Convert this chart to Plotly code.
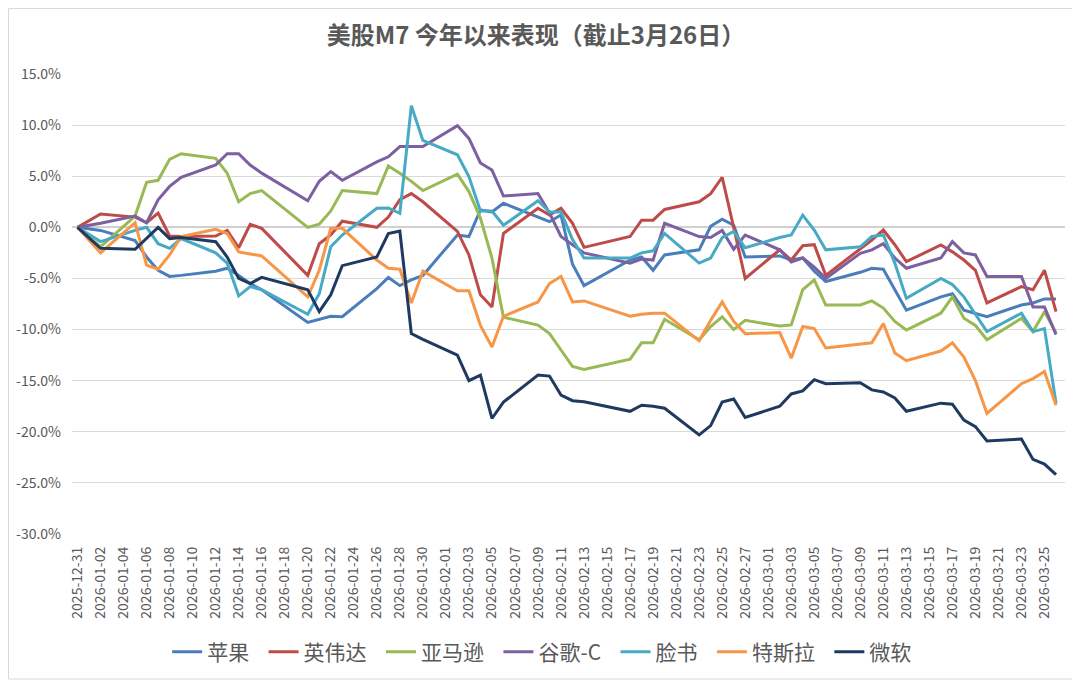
import plotly.graph_objects as go

# trading days (US market), Dec 31 is the base day
dates = [
    "2025-12-31",
    "2026-01-02", "2026-01-05", "2026-01-06", "2026-01-07", "2026-01-08", "2026-01-09",
    "2026-01-12", "2026-01-13", "2026-01-14", "2026-01-15", "2026-01-16",
    "2026-01-20", "2026-01-21", "2026-01-22", "2026-01-23",
    "2026-01-26", "2026-01-27", "2026-01-28", "2026-01-29", "2026-01-30",
    "2026-02-02", "2026-02-03", "2026-02-04", "2026-02-05", "2026-02-06",
    "2026-02-09", "2026-02-10", "2026-02-11", "2026-02-12", "2026-02-13",
    "2026-02-17", "2026-02-18", "2026-02-19", "2026-02-20",
    "2026-02-23", "2026-02-24", "2026-02-25", "2026-02-26", "2026-02-27",
    "2026-03-02", "2026-03-03", "2026-03-04", "2026-03-05", "2026-03-06",
    "2026-03-09", "2026-03-10", "2026-03-11", "2026-03-12", "2026-03-13",
    "2026-03-16", "2026-03-17", "2026-03-18", "2026-03-19", "2026-03-20",
    "2026-03-23", "2026-03-24", "2026-03-25", "2026-03-26",
]

# YTD return, in %
apple = [0, -0.3, -1.3, -2.9, -4.2, -4.8, -4.7, -4.3, -4.0, -4.7, -5.5, -6.1,
         -9.3, -9.0, -8.7, -8.75, -6.0, -4.9, -5.7, -5.15, -4.7,
         -0.75, -0.9, 1.7, 1.5, 2.35, 1.0, 0.55, 1.2, -3.6, -5.7,
         -3.2, -2.9, -4.2, -2.7, -2.2, 0.1, 0.8, 0.2, -2.9,
         -2.8, -3.2, -3.0, -4.3, -5.3, -4.4, -4.0, -4.1, -6.1, -8.1,
         -6.8, -6.5, -8.1, -8.4, -8.75, -7.6, -7.4, -7.0, -7.0]
nvidia = [0, 1.3, 1.0, 0.45, 1.4, -0.85, -0.9, -0.85, -0.3, -2.0, 0.3, -0.1,
          -4.7, -1.6, -0.75, 0.6, 0.0, 1.0, 2.7, 3.3, 2.5,
          -0.4, -2.7, -6.6, -7.8, -0.6, 1.86, 1.2, 1.86, 0.4, -1.96,
          -0.9, 0.7, 0.7, 1.75, 2.5, 3.3, 4.9, 0.0, -5.0,
          -2.2, -3.2, -1.8, -1.7, -4.7, -2.05, -1.24, -0.26, -1.7, -3.36,
          -1.73, -2.4, -3.2, -4.2, -7.4, -5.8, -6.1, -4.2, -8.25]
amazon = [0, -1.9, 1.1, 4.4, 4.6, 6.65, 7.2, 6.75, 5.3, 2.5, 3.3, 3.6,
          0.0, 0.3, 1.6, 3.6, 3.3, 6.0, 5.3, 4.5, 3.6,
          5.2, 3.5, 0.9, -3.0, -8.8, -9.56, -10.4, -12.0, -13.6, -13.9,
          -12.9, -11.3, -11.3, -9.0, -11.0, -9.7, -8.75, -10.0, -9.1,
          -9.66, -9.55, -6.1, -5.15, -7.6, -7.6, -7.2, -7.9, -9.2, -10.05,
          -8.4, -6.8, -8.9, -9.6, -11.0, -8.9, -10.2, -8.25, -10.3]
google = [0, 0.4, 1.1, 0.45, 2.7, 4.0, 4.9, 6.1, 7.2, 7.2, 6.1, 5.3,
          2.6, 4.5, 5.45, 4.6, 6.4, 6.9, 7.9, 7.9, 7.9,
          9.95, 8.7, 6.3, 5.6, 3.06, 3.3, 1.4, -0.9, -1.7, -2.5,
          -3.5, -3.1, -3.2, 0.4, -0.9, -1.0, -0.3, -2.15, -0.75,
          -2.2, -3.4, -3.0, -3.9, -5.0, -2.55, -2.2, -1.6, -3.0, -4.0,
          -3.0, -1.4, -2.5, -2.7, -4.8, -4.8, -7.8, -7.8, -10.5]
meta = [0, -1.4, -0.3, 0.0, -1.6, -2.05, -1.1, -2.5, -3.5, -6.7, -5.8, -6.1,
        -8.5, -6.5, -1.9, -0.75, 1.86, 1.9, 1.37, 11.9, 8.5,
        7.1, 4.96, 1.6, 1.6, 0.2, 2.6, 1.5, 1.5, -1.2, -3.0,
        -3.0, -2.5, -2.3, -0.6, -3.5, -3.0, -1.0, -0.4, -2.0,
        -1.0, -0.75, 1.2, -0.26, -2.2, -1.9, -0.9, -0.75, -3.5, -6.95,
        -5.0, -5.6, -6.8, -8.5, -10.2, -8.4, -10.2, -9.9, -17.2]
tesla = [0, -2.5, 0.45, -3.7, -4.1, -2.7, -0.9, -0.2, -0.6, -2.4, -2.6, -2.8,
         -6.8, -4.2, -0.1, -0.1, -3.2, -4.0, -4.1, -7.4, -4.3,
         -6.2, -6.2, -9.6, -11.7, -8.7, -7.3, -5.5, -4.8, -7.3, -7.2,
         -8.7, -8.5, -8.4, -8.4, -11.1, -9.1, -7.3, -9.2, -10.4,
         -10.3, -12.8, -9.7, -9.9, -11.8, -11.4, -11.3, -9.4, -12.3, -13.05,
         -12.1, -11.3, -12.7, -15.0, -18.2, -15.3, -14.8, -14.1, -17.4]
msft = [0, -2.05, -2.15, -1.1, 0.0, -1.1, -1.0, -1.4, -2.9, -5.0, -5.5, -4.9,
        -6.1, -8.25, -6.6, -3.75, -2.9, -0.6, -0.36, -10.4, -10.96,
        -12.5, -15.0, -14.45, -18.7, -17.1, -14.45, -14.55, -16.4, -16.96, -17.06,
        -18.0, -17.4, -17.5, -17.7, -20.3, -19.4, -17.1, -16.8, -18.6,
        -17.5, -16.3, -16.0, -14.9, -15.3, -15.2, -15.9, -16.1, -16.7, -18.0,
        -17.2, -17.3, -18.85, -19.5, -20.9, -20.7, -22.7, -23.16, -24.2]

names = ["苹果", "英伟达", "亚马逊", "谷歌-C", "脸书", "特斯拉", "微软"]
series = [apple, nvidia, amazon, google, meta, tesla, msft]
colors = ["#4A7EBB", "#BE4B48", "#98B954", "#7D60A0", "#46AAC5", "#F79646", "#1F3A60"]

y_ticks = [15, 10, 5, 0, -5, -10, -15, -20, -25, -30]
y_labels = ["15.0%", "10.0%", "5.0%", "0.0%", "-5.0%", "-10.0%", "-15.0%", "-20.0%", "-25.0%", "-30.0%"]

txt = "#595959"
fnt = "Noto Sans CJK SC, Noto Sans, sans-serif"
pad = "\u00a0\u00a0"  # a bit more room between legend entries

fig = go.Figure()
for name, vals, col in zip(names, series, colors):
    fig.add_trace(go.Scatter(x=dates, y=vals, name=name + pad, mode="lines",
                             line=dict(color=col, width=3)))

# the page body adds an 8px margin, so the figure is 8px smaller than the window
W, H = 1072, 672
fig.update_layout(
    width=W, height=H,
    paper_bgcolor="white", plot_bgcolor="white",
    margin=dict(l=64, r=15, t=66, b=146, autoexpand=False),
    font=dict(family=fnt, color=txt, size=14),
    title=dict(text="美股M7 今年以来表现（截止3月26日）",
               font=dict(size=24, color=txt, weight="bold"),
               x=0.4925, xanchor="center", y=1 - 28 / H, yanchor="middle", yref="container"),
    legend=dict(orientation="h", x=0.478, xanchor="center", y=-0.2565, yanchor="middle",
                font=dict(size=21, color=txt), itemwidth=30),
    showlegend=True,
)

fig.update_xaxes(
    type="date", automargin=False,
    range=["2025-12-30 12:30", "2026-03-26 18:45"],
    tick0="2025-12-31", dtick=2 * 86400000, tickformat="%Y-%m-%d",
    tickangle=-90, tickfont=dict(size=14, color=txt), ticklabelstandoff=9,
    showgrid=False, showline=False, ticks="",
)
fig.update_yaxes(
    automargin=False,
    range=[-30, 15], tickvals=y_ticks, ticktext=y_labels,
    showgrid=True, gridcolor="#D9D9D9", gridwidth=1,
    zeroline=True, zerolinecolor="#D0D0D0", zerolinewidth=1.5,
    tickfont=dict(size=14, color=txt), ticks="", ticklabelstandoff=10,
)

# light frame around the whole chart area
fig.add_shape(type="rect", xref="paper", yref="paper",
              x0=-63.5 / 993, x1=1 + 14 / 993, y0=-145 / 460, y1=1 + 65.5 / 460,
              line=dict(color="#D9D9D9", width=1))

fig.write_html("out.html")
